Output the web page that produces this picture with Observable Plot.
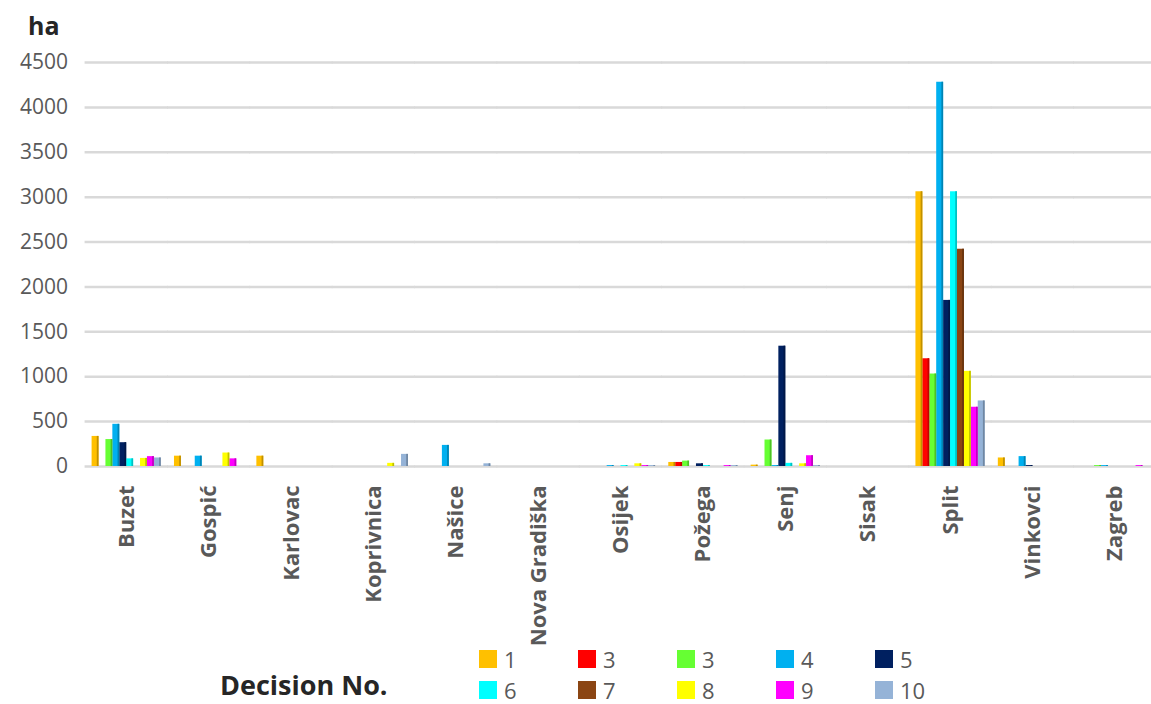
<!DOCTYPE html>
<html>
<head>
<meta charset="utf-8">
<script src="https://cdn.jsdelivr.net/npm/d3@7"></script>
<script src="https://cdn.jsdelivr.net/npm/@observablehq/plot@0.6"></script>
<style>
html, body { margin: 0; padding: 0; overflow: hidden; background: #fff; }
#wrap { position: relative; width: 1156px; height: 704px; }
#ha { position: absolute; left: 28px; top: 8px; font: bold 25px 'Open Sans', sans-serif; color: #262626; }
#dec { position: absolute; left: 220px; top: 671px; font: bold 27px/1 'Open Sans', sans-serif; color: #262626; white-space: nowrap; }
#legend { position: absolute; left: 479px; top: 644px; display: grid; grid-template-columns: repeat(5, 99px); grid-auto-rows: 29px; row-gap: 2px; }
.item { display: flex; align-items: center; height: 29px; font: 22px/22px 'Open Sans', sans-serif; color: #595959; }
.sw { width: 18px; height: 18px; margin-right: 7px; flex: none; }
[aria-label^="fx-axis"] text { font-family: 'Open Sans', sans-serif; font-weight: bold; font-size: 22px; fill: #595959; }
[aria-label^="y-axis"] text { font-family: 'Open Sans', sans-serif; font-size: 21px; fill: #595959; }
</style>
</head>
<body>
<div id="wrap">
  <div id="chart"></div>
  <div id="ha">ha</div>
  <div id="dec">Decision No.</div>
  <div id="legend"></div>
</div>
<script>
const categories = ["Buzet","Gospić","Karlovac","Koprivnica","Našice","Nova Gradiška","Osijek","Požega","Senj","Sisak","Split","Vinkovci","Zagreb"];
const seriesLabels = ["1","3","3","4","5","6","7","8","9","10"];
const seriesColors = ["#FFC000","#FF0000","#66FF33","#00B0F0","#002060","#00FFFF","#8B4513","#FFFF00","#FF00FF","#95B3D7"];
const yTicks = [0,500,1000,1500,2000,2500,3000,3500,4000,4500];

// values per decision series, in category order
const decision1  = [335, 115, 115,   0,   0, 0,  0, 45,   15, 0, 3060,  95,  0];
const decision2  = [  0,   0,   0,   0,   0, 0,  0, 45,    0, 0, 1200,   0,  0];
const decision3  = [300,   0,   0,   0,   0, 0,  0, 60,  295, 0, 1030,   0, 10];
const decision4  = [470, 115,   0,   0, 235, 0, 10,  0,   10, 0, 4280, 110, 10];
const decision5  = [265,   0,   0,   0,   0, 0,  0, 30, 1340, 0, 1850,  10,  0];
const decision6  = [ 85,   0,   0,   0,   0, 0, 10, 10,   35, 0, 3060,   0,  0];
const decision7  = [  0,   0,   0,   0,   0, 0,  0,  0,    0, 0, 2420,   0,  0];
const decision8  = [ 90, 150,   0,  35,   0, 0, 30,  0,   30, 0, 1060,   0,  0];
const decision9  = [110,  85,   0,   0,   0, 0, 10, 10,  120, 0,  660,   0, 10];
const decision10 = [ 95,   0,   0, 135,  30, 0, 10, 10,   10, 0,  730,   0,  0];

const seriesValues = [decision1, decision2, decision3, decision4, decision5, decision6, decision7, decision8, decision9, decision10];
const rows = [];
seriesValues.forEach((vals, s) => vals.forEach((v, c) => {
  rows.push({category: categories[c], series: s, value: v});
}));
const seriesIdx = d3.range(seriesLabels.length);

const chart = Plot.plot({
  width: 1156,
  height: 704,
  marginLeft: 85,
  marginRight: 0,
  marginTop: 62,
  marginBottom: 238,
  style: {fontFamily: "'Open Sans', sans-serif", background: "#fff", overflow: "visible"},
  fx: {domain: categories, paddingInner: 0.16, paddingOuter: 0.08, round: false, label: null, tickSize: 0, tickPadding: 19, tickRotate: -90},
  x: {domain: seriesIdx, padding: 0, round: false, axis: null},
  y: {domain: [0, 4500], ticks: yTicks, tickFormat: d3.format("d"), tickSize: 0, tickPadding: 24, label: null},
  color: {domain: seriesIdx, range: seriesColors},
  marks: [
    Plot.ruleY(yTicks, {stroke: "#d9d9d9", strokeWidth: 2.5, insetLeft: -7, insetRight: -7}),
    Plot.barY(rows, {fx: "category", x: "series", y: "value", fill: "series"}),
    Plot.barY(rows, {fx: "category", x: "series", y: "value",
      fill: {value: d => d3.color(seriesColors[d.series]).darker(0.8).formatHex(), scale: null},
      insetLeft: 5.2})
  ]
});
document.getElementById("chart").appendChild(chart);

const legend = document.getElementById("legend");
seriesLabels.forEach((lab, i) => {
  const item = document.createElement("div");
  item.className = "item";
  const sw = document.createElement("span");
  sw.className = "sw";
  sw.style.background = seriesColors[i];
  item.appendChild(sw);
  item.appendChild(document.createTextNode(lab));
  legend.appendChild(item);
});
</script>
</body>
</html>
